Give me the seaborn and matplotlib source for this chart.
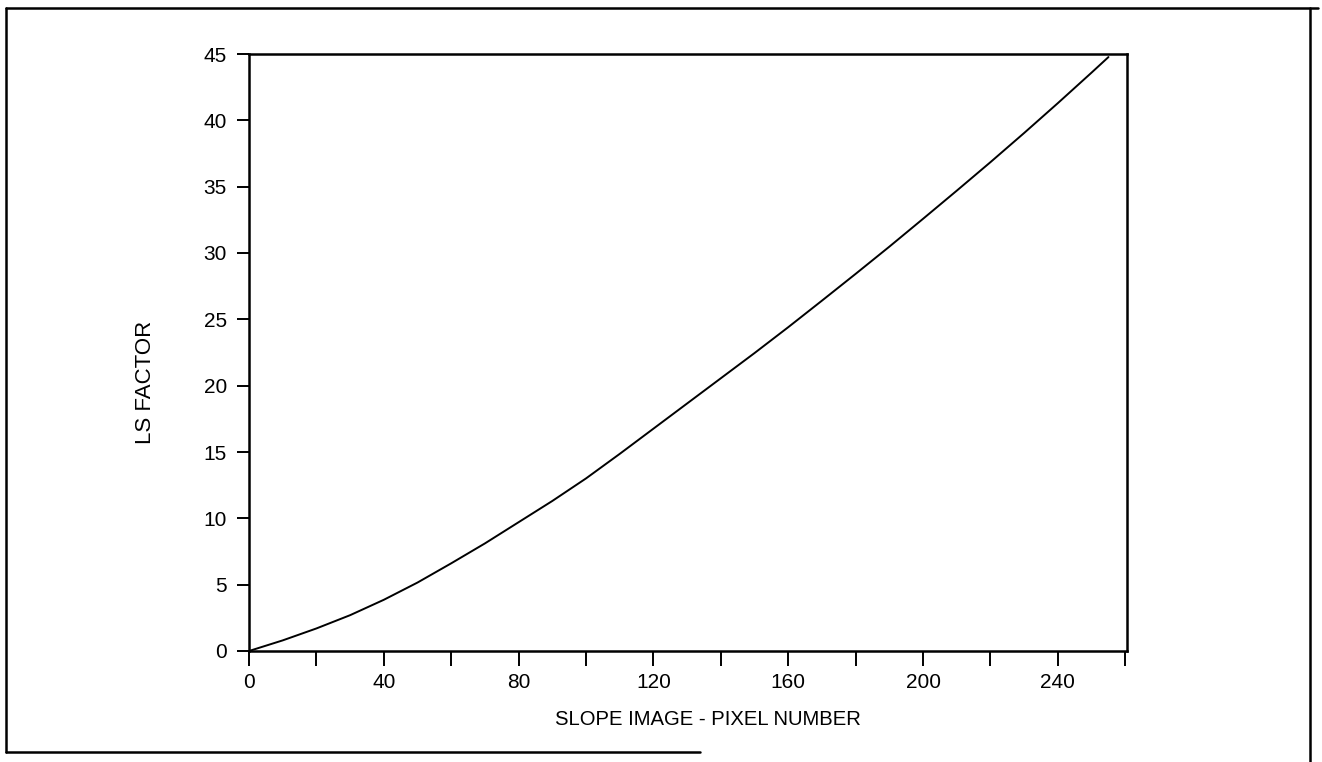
import matplotlib
matplotlib.use("Agg")
import matplotlib.pyplot as plt
import seaborn as sns
import pandas as pd
from matplotlib.lines import Line2D

# Data
pixel_number = [0, 10, 20, 30, 40, 50, 60, 70, 80, 90, 100, 110, 120, 130,
                140, 150, 160, 170, 180, 190, 200, 210, 220, 230, 240, 250, 255]
ls_factor = [0.0, 0.8, 1.7, 2.7, 3.86, 5.16, 6.61, 8.11, 9.71, 11.31, 13.01,
             14.86, 16.76, 18.66, 20.56, 22.46, 24.41, 26.41, 28.43, 30.48,
             32.58, 34.7, 36.85, 39.05, 41.3, 43.6, 44.77]
x_ticks = [0, 20, 40, 60, 80, 100, 120, 140, 160, 180, 200, 220, 240, 260]
x_tick_labels = ["0", "", "40", "", "80", "", "120", "", "160", "", "200", "", "240", ""]
y_ticks = [0, 5, 10, 15, 20, 25, 30, 35, 40, 45]

sns.set_theme(style="white")
plt.rcParams["font.family"] = ["Liberation Sans", "DejaVu Sans"]

W, H = 1322, 762
fig = plt.figure(figsize=(W / 100, H / 100), dpi=100)
ax = fig.add_axes([249 / W, 1 - 651 / H, (1127 - 249) / W, (651 - 54) / H])

df = pd.DataFrame({"x": pixel_number, "y": ls_factor})
sns.lineplot(data=df, x="x", y="y", ax=ax, color="black", linewidth=1.4)

ax.set_xlim(0, 260.5)
ax.set_ylim(0, 45)
ax.set_xticks(x_ticks)
ax.set_xticklabels(x_tick_labels)
ax.set_yticks(y_ticks)
ax.tick_params(axis="both", direction="out", colors="black", labelsize=15,
               width=1.4)
ax.tick_params(axis="x", length=11, pad=5, bottom=True)
ax.tick_params(axis="y", length=9, pad=7, left=True)
for s in ax.spines.values():
    s.set_visible(True)
    s.set_color("black")
    s.set_linewidth(1.8)

ax.set_xlabel("SLOPE IMAGE - PIXEL NUMBER", fontsize=14.6, color="black")
ax.xaxis.set_label_coords(0.523, -0.099)
ax.set_ylabel("LS FACTOR", fontsize=16, color="black")
ax.yaxis.set_label_coords(-0.106, 0.45)
ax.grid(False)

# outer frame of the figure
def fl(x0, y0, x1, y1):
    fig.add_artist(Line2D([x0 / W, x1 / W], [1 - y0 / H, 1 - y1 / H],
                          transform=fig.transFigure, color="black", linewidth=1.8))

fl(6, 8, 1318, 8)
fl(6, 8, 6, 752)
fl(6, 752, 700, 752)
fl(1310, 8, 1310, 762)

fig.savefig("out.png", dpi=100, facecolor="white")
